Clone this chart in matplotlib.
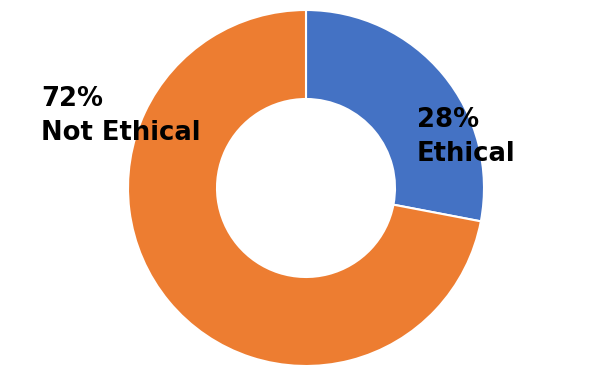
import matplotlib.pyplot as plt

labels = ["Ethical", "Not Ethical"]
shares = [28, 72]
colors = ["#4472C4", "#ED7D31"]

fig = plt.figure(figsize=(5.9, 3.77), dpi=100)
ax = fig.add_axes([(306 - 178) / 590, 11 / 377, 356 / 590, 356 / 377])

ax.pie(shares, colors=colors, startangle=90, counterclock=False, radius=1.0,
       wedgeprops=dict(width=0.5, edgecolor="white", linewidth=1.5))
ax.set_xlim(-1, 1)
ax.set_ylim(-1, 1)
ax.set_aspect("equal")
ax.axis("off")

font = dict(family="DejaVu Sans", fontsize=18.6, fontweight="bold", color="black",
            va="baseline", ha="left")
# label positions (data coords)
pos = {"Ethical": (0.624, 0.343), "Not Ethical": (-1.489, 0.461)}
for lab, val in zip(labels, shares):
    x, y = pos[lab]
    ax.text(x, y, f"{val}%", **font)
    ax.text(x, y - 0.19, lab, **font)

fig.savefig("out.png", dpi=100)
